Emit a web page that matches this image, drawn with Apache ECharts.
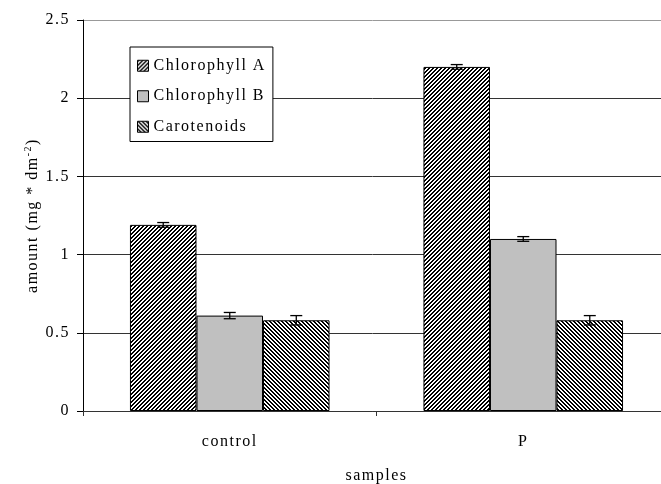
<!DOCTYPE html>
<html><head><meta charset="utf-8">
<script src="https://cdn.jsdelivr.net/npm/echarts@6/dist/echarts.min.js"></script>
<style>
html,body{margin:0;padding:0;background:#fff;}
#c{width:661px;height:484px;}
</style></head><body><div id="c"></div>
<script>
const categories = ['control', 'P'];
const seriesNames = ['Chlorophyll A', 'Chlorophyll B', 'Carotenoids'];
const chlorophyllA = [1.19, 2.20];
const chlorophyllB = [0.61, 1.10];
const carotenoids = [0.58, 0.58];
const errA = [0.015, 0.015];
const errB = [0.02, 0.015];
const errC = [0.03, 0.03];

const FONT = 'Liberation Serif';
const LETTER_SPACING = '1.5px';

// widen text like the reference (letter spacing), for both drawing and measuring
(function () {
  const P = CanvasRenderingContext2D.prototype;
  ['fillText', 'strokeText', 'measureText'].forEach(fn => {
    const orig = P[fn];
    P[fn] = function () {
      try { this.letterSpacing = LETTER_SPACING; } catch (e) {}
      return orig.apply(this, arguments);
    };
  });
})();

function stripeCanvas(dir) {
  const s = 4;
  const c = document.createElement('canvas');
  c.width = s; c.height = s;
  const g = c.getContext('2d');
  g.fillStyle = '#fff'; g.fillRect(0, 0, s, s);
  g.fillStyle = '#000';
  for (let y = 0; y < s; y++) {
    for (let x = 0; x < s; x++) {
      const k = dir > 0 ? (x + y) % s : ((x - y) % s + s) % s;
      if (k < 2) g.fillRect(x, y, 1, 1);
    }
  }
  return c;
}
const fills = [
  { image: stripeCanvas(1), repeat: 'repeat' },
  '#c0c0c0',
  { image: stripeCanvas(-1), repeat: 'repeat' }
];
const values = [chlorophyllA, chlorophyllB, carotenoids];
const errs = [errA, errB, errC];

const errData = [];
values.forEach((vals, si) => {
  vals.forEach((v, ci) => {
    errData.push([ci, si, v - errs[si][ci], v + errs[si][ci]]);
  });
});

const GAP = 0.32;
const chart = echarts.init(document.getElementById('c'), null, { renderer: 'canvas' });
const option = {
  animation: false,
  backgroundColor: '#fff',
  textStyle: { fontFamily: FONT },
  grid: { left: 83, top: 20, width: 587, height: 391, containLabel: false, outerBoundsMode: 'none' },
  legend: {
    data: seriesNames,
    orient: 'vertical',
    left: 130, top: 47,
    padding: [10, 7, 6, 7],
    itemGap: 13,
    itemWidth: 11, itemHeight: 11,
    icon: 'rect',
    selectedMode: false,
    backgroundColor: '#fff',
    borderColor: '#000', borderWidth: 1,
    itemStyle: { borderColor: '#000', borderWidth: 1 },
    textStyle: { fontFamily: FONT, fontSize: 16, color: '#000' },
    z: 10
  },
  xAxis: {
    type: 'category',
    data: categories,
    axisLine: { lineStyle: { color: '#333', width: 1 } },
    axisTick: { show: true, length: 5, lineStyle: { color: '#333' } },
    axisLabel: { fontFamily: FONT, fontSize: 16, color: '#000', margin: 22 },
    name: 'samples',
    nameLocation: 'middle',
    nameGap: 56,
    nameMoveOverlap: false,
    nameTextStyle: { fontFamily: FONT, fontSize: 16, color: '#000' }
  },
  yAxis: {
    type: 'value',
    min: 0, max: 2.5, interval: 0.5,
    axisLine: { show: true, lineStyle: { color: '#000', width: 1 } },
    axisTick: { show: true, length: 6, lineStyle: { color: '#000' } },
    axisLabel: { fontFamily: FONT, fontSize: 16, color: '#000', margin: 13 },
    splitLine: { show: true, lineStyle: { color: ['#333', '#333', '#333', '#333', '#333', '#999'], width: 1 } },
    name: '{a|amount (mg * dm}{b|-2}{a|)}',
    nameLocation: 'middle',
    nameGap: 40,
    nameMoveOverlap: false,
    nameTextStyle: {
      rich: {
        a: { fontFamily: FONT, fontSize: 16, color: '#000', lineHeight: 20 },
        b: { fontFamily: FONT, fontSize: 10, color: '#000', lineHeight: 10, verticalAlign: 'top' }
      }
    }
  },
  series: seriesNames.map((name, si) => ({
    name: name,
    type: 'bar',
    data: values[si],
    barGap: '0%',
    barCategoryGap: (GAP * 100) + '%',
    itemStyle: { color: fills[si], borderColor: '#000', borderWidth: 1 },
    emphasis: { disabled: true },
    z: 2
  })).concat([{
    type: 'custom',
    name: 'error',
    data: errData,
    encode: { x: 0, y: [2, 3] },
    z: 5,
    renderItem: function (params, api) {
      const cat = api.value(0), si = api.value(1), lo = api.value(2), hi = api.value(3);
      const catW = api.size([1, 0])[0];
      const groupW = catW * (1 - GAP), barW = groupW / 3;
      const cx = api.coord([cat, 0])[0] - groupW / 2 + barW * (si + 0.5);
      const yLo = api.coord([cat, lo])[1], yHi = api.coord([cat, hi])[1];
      const hw = 6;
      const st = { stroke: '#000', lineWidth: 1.3 };
      return {
        type: 'group', children: [
          { type: 'line', shape: { x1: cx, y1: yLo, x2: cx, y2: yHi }, style: st },
          { type: 'line', shape: { x1: cx - hw, y1: yHi, x2: cx + hw, y2: yHi }, style: st },
          { type: 'line', shape: { x1: cx - hw, y1: yLo, x2: cx + hw, y2: yLo }, style: st }
        ]
      };
    }
  }])
};
chart.setOption(option);
</script></body></html>
